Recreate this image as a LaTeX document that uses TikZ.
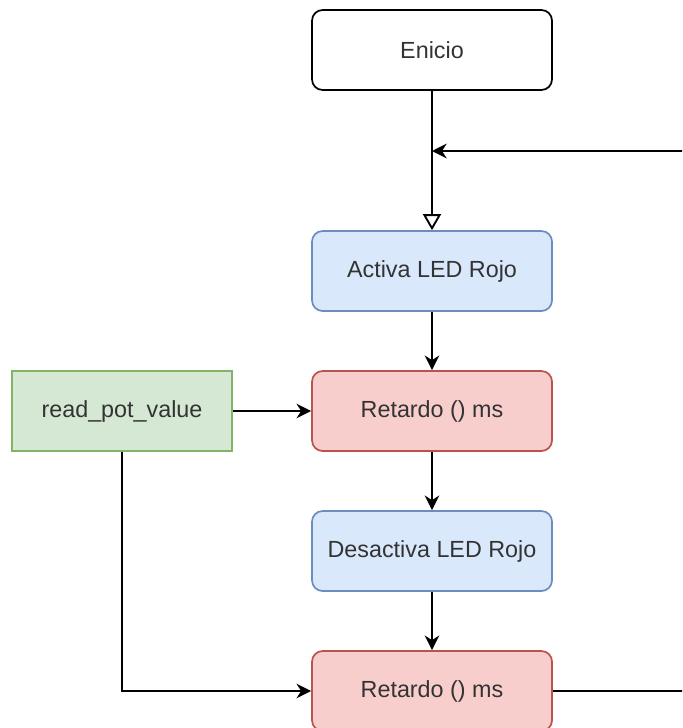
\documentclass[tikz,border=0pt]{standalone}
\usepackage{fontspec}
\setmainfont{Liberation Sans}
\usetikzlibrary{arrows.meta}
\definecolor{blueFill}{HTML}{DAE8FC}
\definecolor{blueLine}{HTML}{6C8EBF}
\definecolor{redFill}{HTML}{F8CECC}
\definecolor{redLine}{HTML}{B85450}
\definecolor{greenFill}{HTML}{D5E8D4}
\definecolor{greenLine}{HTML}{82B366}
\definecolor{txt}{HTML}{333333}
\tikzset{
  px/.style={x=0.75pt,y=-0.75pt},
  box/.style={minimum width=180pt,minimum height=60pt,rounded corners=8pt,
    line width=1.3pt,inner sep=0pt,font=\fontsize{17.5}{20}\selectfont,text=txt},
  startbox/.style={box,draw=black,fill=white},
  actbox/.style={box,draw=blueLine,fill=blueFill},
  waitbox/.style={box,draw=redLine,fill=redFill},
  inbox/.style={box,rounded corners=0pt,minimum width=165pt,draw=greenLine,fill=greenFill},
  link/.style={line width=1.4pt,-{Stealth[length=11pt,width=11pt,inset=3.5pt]}},
  plain/.style={line width=1.4pt},
  openlink/.style={line width=1.4pt,-{Triangle[open,length=12pt,width=13.5pt]}}
}
\begin{document}
\begin{tikzpicture}[px]
  \useasboundingbox (0,0) rectangle (682,728);
  \clip (0,0) rectangle (682,728);
  \node[startbox] (start) at (432,50) {Enicio};
  \node[actbox] (on) at (432,271) {Activa LED Rojo};
  \node[waitbox] (wait1) at (432,411) {Retardo () ms};
  \node[actbox] (off) at (432,551) {Desactiva LED Rojo};
  \node[waitbox] (wait2) at (432,691) {Retardo () ms};
  \node[inbox] (pot) at (122,411) {read\_pot\_value};
  \coordinate (loopIn) at (684,151);
  \coordinate (merge) at (432,151);
  \coordinate (loopOut) at (684,691);
  \coordinate (potTurn) at (122,691);

  \draw[openlink] (start) -- (on);
  \draw[link] (loopIn) -- (merge);
  \draw[link] (on) -- (wait1);
  \draw[link] (wait1) -- (off);
  \draw[link] (off) -- (wait2);
  \draw[link] (pot) -- (wait1);
  \draw[link] (pot.south) -- (potTurn) -- (wait2.west);
  \draw[plain] (wait2) -- (loopOut);
\end{tikzpicture}
\end{document}
